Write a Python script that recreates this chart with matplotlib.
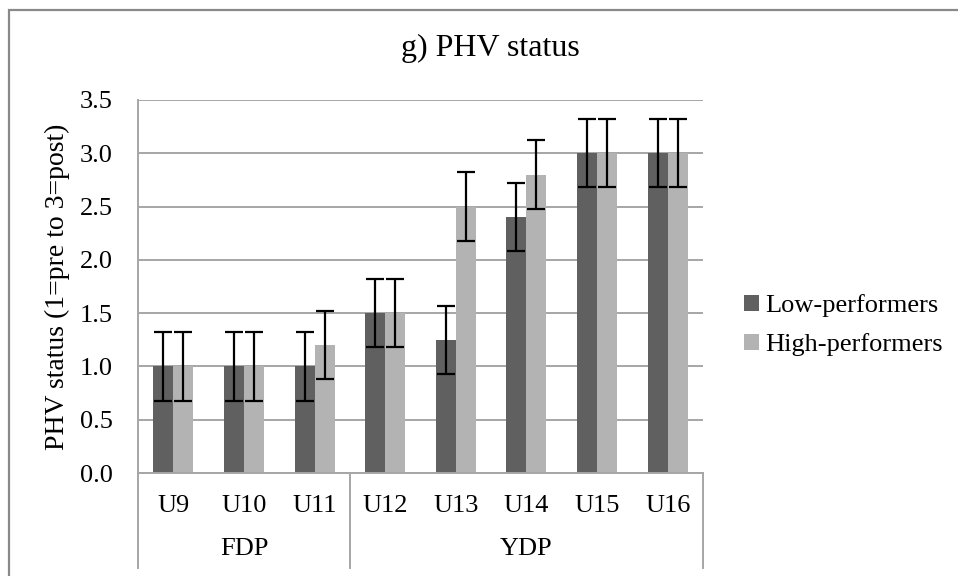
import matplotlib
matplotlib.use("Agg")
import matplotlib.pyplot as plt
import numpy as np
from matplotlib.patches import Rectangle, Patch

plt.rcParams["font.family"] = ["Liberation Serif", "DejaVu Serif"]

# Data
age_groups = ["U9", "U10", "U11", "U12", "U13", "U14", "U15", "U16"]
programmes = ["FDP", "YDP"]
programme_sizes = [3, 5]
low_performers = [1.0, 1.0, 1.0, 1.5, 1.25, 2.4, 3.0, 3.0]
high_performers = [1.0, 1.0, 1.2, 1.5, 2.5, 2.8, 3.0, 3.0]
low_err = [0.32, 0.32, 0.32, 0.32, 0.32, 0.32, 0.32, 0.32]
high_err = [0.32, 0.32, 0.32, 0.32, 0.32, 0.32, 0.32, 0.32]
y_ticks = [0.0, 0.5, 1.0, 1.5, 2.0, 2.5, 3.0, 3.5]

W, H = 958, 576
fig = plt.figure(figsize=(W / 100, H / 100), dpi=100)

# outer chart frame
fig.patches.append(Rectangle((9 / W, -0.2), 1.5, (H - 10) / H + 0.2,
                             transform=fig.transFigure, fill=False,
                             edgecolor="#898989", linewidth=1.6, zorder=0))

left, right, top, bottom = 138, 703, 100, 473
ax = fig.add_axes([left / W, 1 - bottom / H, (right - left) / W, (bottom - top) / H])

dark = "#606060"
light = "#b3b3b3"
grid_c = "#a6a6a6"
fs = 19

x = np.arange(len(age_groups))
bw = 0.283
ekw = dict(ecolor="black", elinewidth=1.6, capsize=6.5, capthick=1.6)
ax.bar(x - bw / 2, low_performers, bw, color=dark, yerr=low_err,
       error_kw=ekw, label="Low-performers", zorder=2)
ax.bar(x + bw / 2, high_performers, bw, color=light, yerr=high_err,
       error_kw=ekw, label="High-performers", zorder=2)

ax.set_xlim(-0.5, len(age_groups) - 0.5)
ax.set_ylim(0, 3.5)
ax.set_yticks(y_ticks)
ax.set_yticklabels([f"{v:.1f}" for v in y_ticks], fontsize=fs)
ax.tick_params(axis="y", length=0, pad=18)
ax.set_xticks([])
ax.yaxis.grid(True, color=grid_c, linewidth=1.4, zorder=0)
ax.set_axisbelow(True)

for s in ["top", "right"]:
    ax.spines[s].set_visible(False)
ax.spines["left"].set_color(grid_c)
ax.spines["left"].set_linewidth(1.4)
ax.spines["bottom"].set_color(grid_c)
ax.spines["bottom"].set_linewidth(1.4)

ax.set_ylabel("PHV status (1=pre to 3=post)", fontsize=20)
ax.yaxis.set_label_coords((70 - left) / (right - left), 0.5)

# two-level category axis
trans = ax.get_xaxis_transform()
y_sub = -(506 - bottom) / (bottom - top)
y_grp = -(549 - bottom) / (bottom - top)
y_end = -(568 - bottom) / (bottom - top)
for i, lab in enumerate(age_groups):
    ax.text(i, y_sub, lab, transform=trans, ha="center", va="center", fontsize=fs)

start = 0
bounds = [-0.5]
for name, n in zip(programmes, programme_sizes):
    center = start + (n - 1) / 2
    ax.text(center, y_grp, name, transform=trans, ha="center", va="center", fontsize=fs)
    start += n
    bounds.append(start - 0.5)
for b in bounds:
    ax.plot([b, b], [0, y_end], transform=trans, color=grid_c, linewidth=1.4,
            clip_on=False, zorder=1)

fig.text(490 / W, 1 - 48 / H, "g) PHV status", ha="center", va="center", fontsize=23)

handles = [Patch(facecolor=dark, label="Low-performers"),
           Patch(facecolor=light, label="High-performers")]
fig.legend(handles=handles, loc="center left", bbox_to_anchor=(744 / W, 1 - 325 / H),
           frameon=False, fontsize=fs, handlelength=0.55, handleheight=0.55,
           handletextpad=0.25, labelspacing=0.6, borderaxespad=0, borderpad=0)

fig.savefig("out.png", dpi=100)
